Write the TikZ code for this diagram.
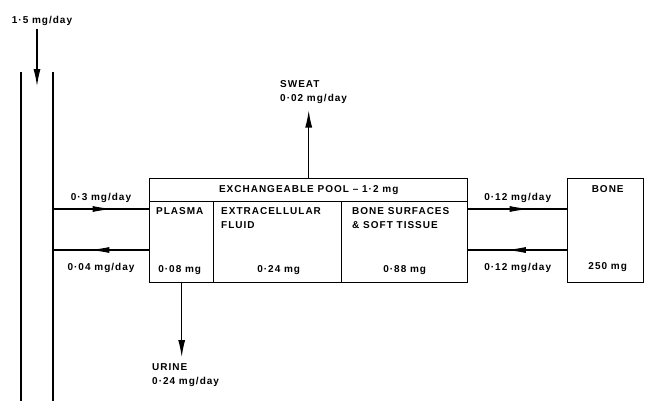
\documentclass[tikz,border=0pt]{standalone}
\usepackage{fontspec}
\setmainfont{Liberation Sans}[LetterSpace=10]
\usetikzlibrary{arrows.meta,positioning,calc,decorations.markings}

\begin{document}
\begin{tikzpicture}[
    x=1pt, y=-1pt,
    font=\bfseries\fontsize{10}{14}\selectfont,
    comp/.style={draw, rectangle, line width=1.4pt, anchor=north west, inner sep=0pt},
    name_txt/.style={inner sep=0pt, align=left, anchor=north west},
    value/.style={inner sep=0pt, anchor=base},
    wall/.style={line width=1.4pt},
    arrow/.style={line width=1.1pt, -{Latex[length=17pt,width=7pt]}},
    mid_arrow/.style={line width=1.1pt, decoration={markings, mark=at position 0.62 with {\arrow{Latex[length=20pt,width=6pt]}}}, postaction={decorate}}
]
    \useasboundingbox (0,0) rectangle (649,400);

    % Gut (left)
    \coordinate (gut_l_top) at (21,72);
    \coordinate (gut_l_bot) at (21,401);
    \coordinate (gut_r_top) at (53,72);
    \coordinate (gut_r_bot) at (53,401);
    \coordinate (gut_mid) at (37,86);
    \draw [wall] (gut_l_top) -- (gut_l_bot);
    \draw [wall] (gut_r_top) -- (gut_r_bot);
    \node [value] (intake) at (42,23) {1·5 mg/day};

    % Exchangeable pool
    \node [comp, minimum width=318pt, minimum height=23pt] (pool) at (149,178) {EXCHANGEABLE POOL – 1·2 mg};
    \node [comp, minimum width=64pt, minimum height=81pt] (plasma) at (149,201) {};
    \node [comp, minimum width=128pt, minimum height=81pt] (ecf) at (213,201) {};
    \node [comp, minimum width=126pt, minimum height=81pt] (bst) at (341,201) {};

    \node [name_txt] (plasma_name) at ($(plasma.north west)+(7,6)$) {PLASMA};
    \node [name_txt] (ecf_name) at ($(ecf.north west)+(8,6)$) {EXTRACELLULAR\\FLUID};
    \node [name_txt] (bst_name) at ($(bst.north west)+(11,6)$) {BONE SURFACES\\\& SOFT TISSUE};

    \node [value] (plasma_val) at ($(plasma.south)+(-2,-11)$) {0·08 mg};
    \node [value] (ecf_val) at ($(ecf.south)+(1,-11)$) {0·24 mg};
    \node [value] (bst_val) at ($(bst.south)+(0,-11)$) {0·88 mg};

    % Bone (right)
    \node [comp, minimum width=76pt, minimum height=104pt] (bone) at (567,178) {};
    \node [value] (bone_name) at ($(bone.north)+(2,14)$) {BONE};
    \node [value] (bone_val) at ($(bone.south)+(2,-14)$) {250 mg};

    % Losses
    \node [name_txt] (sweat) at (280,80) {SWEAT\\0·02 mg/day};
    \node [name_txt] (urine) at (152,363) {URINE\\0·24 mg/day};

    % Connections
    \coordinate (gut_in) at (53,209);
    \coordinate (gut_out) at (53,250);

    \draw [arrow, shorten <=4pt] (intake.south -| gut_mid) -- (gut_mid);

    \draw [mid_arrow] (gut_in) -- node[value, yshift=9pt] {0·3 mg/day} (gut_in -| plasma.west);
    \draw [mid_arrow] (gut_out -| plasma.west) -- node[value, yshift=-20pt] {0·04 mg/day} (gut_out);

    \draw [mid_arrow] (bst.east |- gut_in) -- node[value, yshift=9pt] {0·12 mg/day} (bone.west |- gut_in);
    \draw [mid_arrow] (bone.west |- gut_out) -- node[value, yshift=-20pt] {0·12 mg/day} (bst.east |- gut_out);

    \draw [arrow, shorten >=7pt] (pool.north) -- (pool.north |- sweat.south);
    \draw [arrow, shorten >=6pt] (plasma.south) -- (plasma.south |- urine.north);

\end{tikzpicture}
\end{document}
